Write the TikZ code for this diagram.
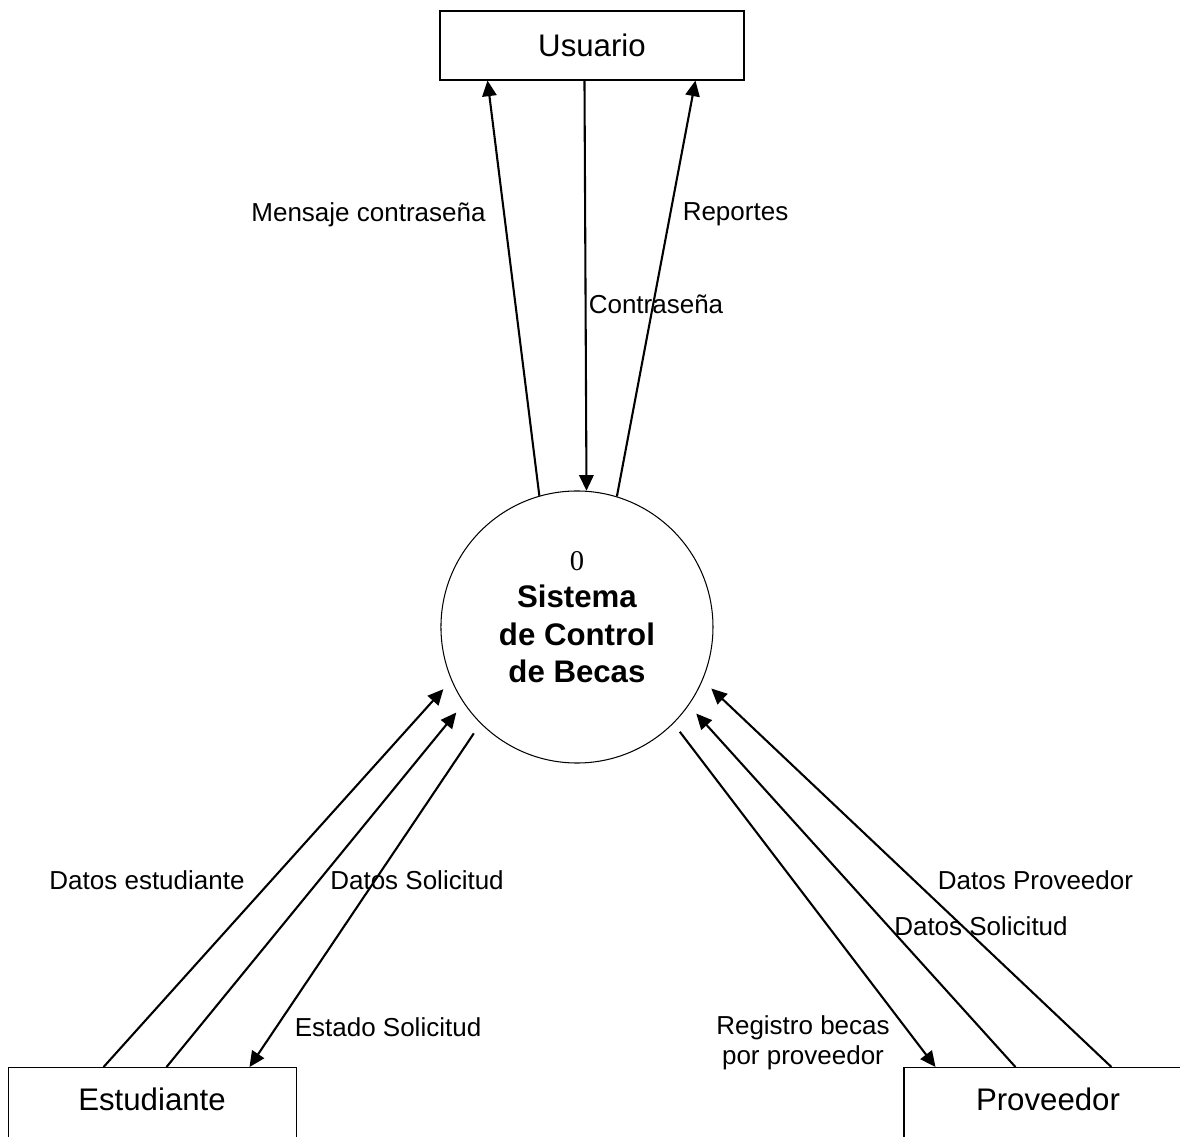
\documentclass[tikz,border=0pt]{standalone}
\usepackage{fontspec}
\setmainfont{Liberation Sans}
\newfontfamily\zerofont{Liberation Serif}
\usetikzlibrary{arrows.meta}
\usetikzlibrary{arrows,shapes}

\begin{document}
\begin{tikzpicture}
    \tikzstyle{entity}=[rectangle, draw, line width=0.4pt, inner sep=0, font=\fontsize{12}{14.4}\selectfont]
    \tikzstyle{flow}=[line width=0.8pt, -{Triangle[length=6pt, width=5.5pt]}]
    \tikzstyle{lbl}=[font=\fontsize{10}{11.5}\selectfont, align=center, inner sep=0]
\useasboundingbox (0,0) rectangle (15.95,-15.356);
\clip (0,0) rectangle (15.95,-15.356);

    \node[entity, minimum width = 4.109cm,
    minimum height = 0.933cm] (u) at (8.002,-0.615) {Usuario};
    \node[entity, minimum width = 3.893cm, anchor=north,
    text height = 0.581cm, text depth = 0.608cm] (e) at (2.055,-14.423) {Estudiante};
    \node[entity, minimum width = 3.893cm, anchor=north,
    text height = 0.581cm, text depth = 0.608cm] (p) at (14.166,-14.423) {Proveedor};

\node[circle, draw, line width=0.4pt, minimum size=3.677cm] (c) at (7.799,-8.475) {};
\node[align=center, font=\bfseries\fontsize{12}{14.4}\selectfont] (ct) at (7.799,-8.34)
    {{\zerofont\mdseries\fontsize{11}{14.4}\selectfont 0}\\Sistema\\de Control\\de Becas};

\draw[flow] (c.106.5) -- ([xshift=0.649cm]u.south west);
\draw[flow] ([xshift=1.960cm]u.south west) -- (c.86.6);
\draw[flow] (c.73.5) -- ([xshift=3.460cm]u.south west);

\draw[flow, shorten >=0.16cm] ([xshift=1.298cm]e.north west) -- (c.203);
\draw[flow, shorten >=0.16cm] ([xshift=2.149cm]e.north west) -- (c.214);
\draw[flow, shorten <=0.16cm] (c.225) -- ([xshift=3.271cm]e.north west);
\draw[flow, shorten <=0.14cm] (c.315) -- ([xshift=0.433cm]p.north west);
\draw[flow, shorten >=0.15cm] ([xshift=1.514cm]p.north west) -- (c.325);
\draw[flow, shorten >=0.16cm] ([xshift=2.811cm]p.north west) -- (c.337);

\node[lbl] (l1) at (4.981,-2.900) {Mensaje contraseña};
\node[lbl] (l2) at (9.942,-2.900) {Reportes};
\node[lbl] (l3) at (8.867,-4.109) {Contraseña};
\node[lbl] (l4) at (1.987,-11.895) {Datos estudiante};
\node[lbl] (l5) at (5.637,-11.895) {Datos Solicitud};
\node[lbl] (l6) at (5.245,-13.882) {Estado Solicitud};
\node[lbl] (l7) at (13.997,-11.895) {Datos Proveedor};
\node[lbl] (l8) at (13.260,-12.517) {Datos Solicitud};
\node[lbl] (l9) at (10.854,-14.098) {Registro becas\\por proveedor};

\end{tikzpicture}
\end{document}
